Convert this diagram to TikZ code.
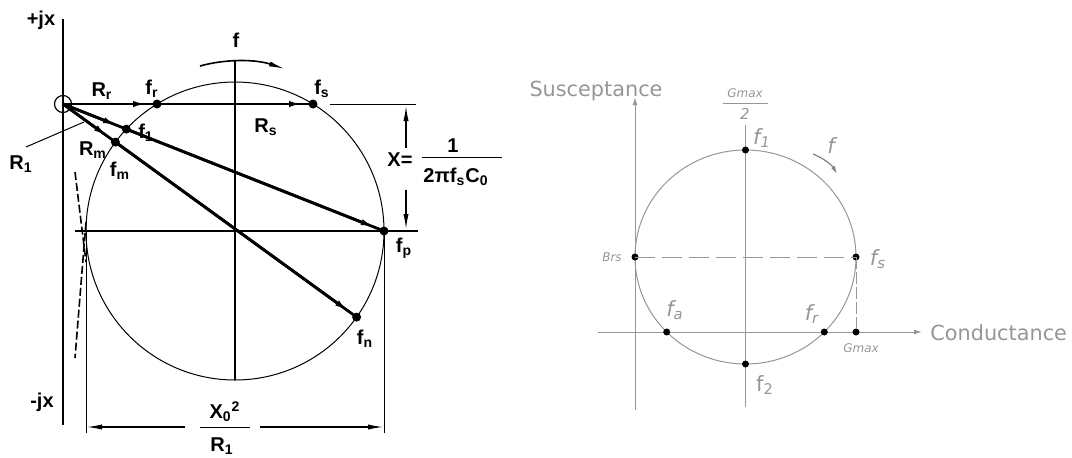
\documentclass[tikz,border=0pt]{standalone}
\usepackage{fontspec}
\setmainfont{Liberation Sans}
\newfontfamily\rfont{DejaVu Sans}
\usetikzlibrary{arrows.meta,calc}
\definecolor{gline}{RGB}{150,150,150}
\definecolor{gtext}{RGB}{150,150,150}
\begin{document}
\begin{tikzpicture}[x=0.5pt,y=-0.5pt,
  lbl/.style={font=\bfseries\fontsize{10}{12}\selectfont, inner sep=0pt},
  axisline/.style={line width=0.8pt},
  thinline/.style={line width=0.5pt},
  vecline/.style={line width=1.4pt},
  vecarr/.style={line width=1.4pt,-{Latex[length=8pt,width=3pt]}, shorten >=4pt},
  dimarr/.style={line width=0.8pt,-{Latex[length=8pt,width=2.6pt]}},
  bdot/.style={circle,fill=black,inner sep=0pt,minimum size=4.5pt},
  gdot/.style={circle,fill=black,inner sep=0pt,minimum size=3.5pt},
  gl/.style={draw=gline, line width=0.5pt},
  rlbl/.style={text=gtext,font=\rfont\itshape\fontsize{10.5}{12}\selectfont, inner sep=0pt},
  rsmall/.style={text=gtext,font=\rfont\itshape\fontsize{6}{7}\selectfont, inner sep=0pt},
  rword/.style={text=gtext,font=\rfont\fontsize{10.4}{12}\selectfont, inner sep=0pt}
]
\useasboundingbox (0,0) rectangle (1072,457);

% ================= LEFT DIAGRAM =================
\coordinate (O) at (63,104);
\coordinate (C) at (235,231);
\coordinate (ytop) at (63,19);
\coordinate (ybot) at (63,425);
\draw[axisline] (ytop) -- (ybot);
\node[lbl] (pjx) at (41,20) {+jx};
\node[lbl] (mjx) at (42,402) {-jx};

\node[draw,circle,line width=0.6pt,minimum size=8.5pt,inner sep=0pt] (Oc) at (O) {};
\draw[thinline] (C) circle[radius=149];

\coordinate (hx1) at (75,231);
\coordinate (hx2) at (418,231);
\draw[axisline] (hx1) -- (hx2);
\coordinate (vc1) at (235,60);
\coordinate (vc2) at (235,380);
\draw[axisline] (vc1) -- (vc2);

% points
\node[bdot] (fr) at (157,104) {};
\node[bdot] (fs) at (313,104) {};
\node[bdot] (f1) at (126.3,129.1) {};
\node[bdot] (fp) at (384,231) {};
\node[bdot] (fm) at (115.4,142.1) {};
\node[bdot] (fn) at (356.6,317.1) {};

% vectors
\draw[vecline] (O) -- (fs.center);
\draw[vecarr] (O) -- (fr.center);
\draw[vecarr] (fr.center) -- (fs.center);
\draw[vecline] (O) -- (fp.center);
\draw[vecarr] (O) -- (f1.center);
\draw[vecarr] (f1.center) -- (fp.center);
\draw[vecline] (O) -- (fn.center);
\draw[vecarr] (O) -- (fm.center);
\draw[vecarr] (fm.center) -- (fn.center);

% f arc arrow
\coordinate (fa1) at (200,66);
\coordinate (fa2) at (285,69);
\draw[line width=0.8pt,-{Latex[length=8pt,width=2.5pt]}] (fa1) .. controls (225,59) and (255,59) .. (fa2);
\node[lbl] (ftop) at (236,40) {f};

% labels
\node[lbl] (Rr) at (102,91) {R\textsubscript{r}};
\node[lbl] (frl) at (152,89) {f\textsubscript{r}};
\node[lbl] (fsl) at (322,89) {f\textsubscript{s}};
\node[lbl] (Rs) at (266,127) {R\textsubscript{s}};
\node[lbl] (f1l) at (146,133) {f\textsubscript{1}};
\node[lbl] (Rm) at (93,150) {R\textsubscript{m}};
\node[lbl] (fml) at (120,171) {f\textsubscript{m}};
\node[lbl] (fpl) at (404,248) {f\textsubscript{p}};
\node[lbl] (fnl) at (365,339) {f\textsubscript{n}};
\node[lbl] (R1) at (21,164) {R\textsubscript{1}};
\coordinate (R1a) at (26,147);
\coordinate (R1b) at (84,122);
\draw[thinline] (R1a) -- (R1b);

% tangent dashed lines near left
\coordinate (t1a) at (75,172);
\coordinate (t1b) at (86,262);
\coordinate (t2a) at (86,222);
\coordinate (t2b) at (75,358);
\draw[line width=0.8pt,dash pattern=on 4pt off 1.5pt] (t1a) -- (t1b);
\draw[line width=0.8pt,dash pattern=on 4pt off 1.5pt] (t2a) -- (t2b);

% X dimension
\coordinate (ex1) at (330,104);
\coordinate (ex2) at (416,104);
\draw[thinline] (ex1) -- (ex2);
\coordinate (xd1) at (406,148);
\coordinate (xd2) at (406,105);
\coordinate (xd3) at (406,190);
\coordinate (xd4) at (406,230);
\draw[dimarr] (xd1) -- (xd2);
\draw[dimarr] (xd3) -- (xd4);
\node[lbl] (Xeq) at (400,160) {X=};
\node[lbl] (num) at (453,146) {1};
\coordinate (xb1) at (422,157);
\coordinate (xb2) at (502,157);
\draw[thinline] (xb1) -- (xb2);
\node[lbl] (den) at (456,177) {2πf\textsubscript{s}C\textsubscript{0}};

% bottom dimension
\coordinate (le1) at (86,231);
\coordinate (le2) at (86,433);
\coordinate (re2) at (384,433);
\draw[thinline] (le1) -- (le2);
\draw[thinline] (fp.center) -- (re2);
\coordinate (bd1) at (185,427);
\coordinate (bd2) at (86,427);
\coordinate (bd3) at (260,427);
\coordinate (bd4) at (384,427);
\draw[dimarr] (bd1) -- (bd2);
\draw[dimarr] (bd3) -- (bd4);
\coordinate (bb1) at (200,427);
\coordinate (bb2) at (250,427);
\draw[thinline] (bb1) -- (bb2);
\node[lbl] (X0) at (225,412) {X\textsubscript{0}\textsuperscript{2}};
\node[lbl] (R1b2) at (222,446) {R\textsubscript{1}};

% ================= RIGHT DIAGRAM =================
\coordinate (C2) at (745.5,257);
\draw[gl] (C2) ellipse[x radius=110.5, y radius=107];
\coordinate (vy1) at (635,410);
\coordinate (vy2) at (635,97);
\draw[gl,-{Latex[length=4pt,width=2.4pt]}] (vy1) -- (vy2);
\coordinate (hxa) at (598,332);
\coordinate (hxb) at (922,332);
\draw[gl,-{Latex[length=4pt,width=2.4pt]}] (hxa) -- (hxb);
\coordinate (vm1) at (745.5,125);
\coordinate (vm2) at (745.5,407);
\draw[gl] (vm1) -- (vm2);

\node[gdot] (F1) at (745.5,150) {};
\node[gdot] (F2) at (745.5,364) {};
\node[gdot] (Brs) at (635,257) {};
\node[gdot] (Fs) at (856,257) {};
\node[gdot] (Fa) at (666.7,332) {};
\node[gdot] (Fr) at (824.3,332) {};
\node[gdot] (Gm) at (856,332) {};

\draw[gl,dash pattern=on 10pt off 3.5pt] (Brs.center) -- (Fs.center);
\draw[gl,dash pattern=on 6pt off 1.5pt] (Fs.center) -- (Gm.center);

\node[rword,anchor=base] (sus) at (596,96) {Susceptance};
\node[rword,anchor=base west] (con) at (930,340) {Conductance};

\node[rsmall] (gm2a) at (745,93) {Gmax};
\coordinate (gb1) at (723,103);
\coordinate (gb2) at (768,103);
\draw[gl] (gb1) -- (gb2);
\node[text=gtext,font=\rfont\itshape\fontsize{7.5}{8}\selectfont,inner sep=0pt] (gm2b) at (745,114) {2};

\node[rlbl] (F1l) at (762,138) {f\textsubscript{1}};
\node[rlbl] (fdir) at (831,146) {f};
\coordinate (fd1) at (813,154);
\coordinate (fd2) at (837,174);
\draw[draw=gray,line width=0.6pt,-{Latex[length=4pt,width=2.2pt]}] (fd1) .. controls (823,158) and (832,165) .. (fd2);
\node[rsmall] (Brsl) at (612,257) {Brs};
\node[rlbl] (Fsl) at (878,259) {f\textsubscript{s}};
\node[rlbl] (Fal) at (675,310) {f\textsubscript{a}};
\node[rlbl] (Frl) at (812,314) {f\textsubscript{r}};
\node[rsmall] (Gml) at (861,348) {Gmax};
\node[text=gtext,font=\rfont\fontsize{10.5}{12}\selectfont,inner sep=0pt] (F2l) at (765,385) {f\textsubscript{2}};
\end{tikzpicture}
\end{document}
